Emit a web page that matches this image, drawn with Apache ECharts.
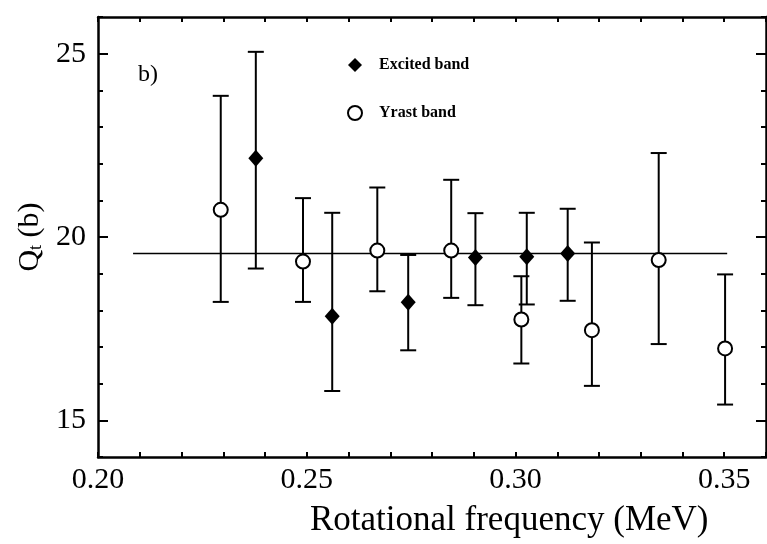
<!DOCTYPE html>
<html>
<head>
<meta charset="utf-8">
<script src="https://cdn.jsdelivr.net/npm/echarts@6/dist/echarts.min.js"></script>
<style>
  html, body { margin: 0; padding: 0; background: #fff; }
  #root { width: 767px; height: 544px; }
</style>
</head>
<body>
<div id="root"></div>
<script>
// excited band (filled diamonds)
const excitedFreq = [0.2378, 0.2561, 0.2743, 0.2904, 0.3027, 0.3125]
const excitedQ = [22.15, 17.84, 18.22, 19.44, 19.46, 19.55]
const excitedLow = [19.14, 15.80, 16.91, 18.14, 18.16, 18.26]
const excitedHigh = [25.05, 20.66, 19.51, 20.65, 20.66, 20.77]

// yrast band (open circles)
const yrastFreq = [0.2294, 0.2491, 0.2669, 0.2846, 0.3014, 0.3183, 0.3343, 0.3502]
const yrastQ = [20.74, 19.33, 19.63, 19.63, 17.75, 17.46, 19.37, 16.96]
const yrastLow = [18.23, 18.23, 18.52, 18.34, 16.55, 15.94, 17.08, 15.43]
const yrastHigh = [23.85, 21.06, 21.35, 21.56, 18.93, 19.85, 22.29, 18.98]

// average Qt line
const fitQ = 19.55
const fitFreq = [0.2084, 0.3507]

const xLabels = [0.20, 0.25, 0.30, 0.35]
const yLabels = [15, 20, 25]

const font = 'Liberation Serif'
const black = '#000'

const zip = (a, b) => a.map((v, i) => [v, b[i]])
const bars = (x, lo, hi) => x.map((v, i) => [v, lo[i], hi[i]])

const errorBars = (params, api) => {
	const top = api.coord([api.value(0), api.value(2)])
	const bot = api.coord([api.value(0), api.value(1)])
	const w = 8
	const style = { stroke: black, lineWidth: 2 }
	return {
		type: 'group',
		children: [
			{ type: 'line', shape: { x1: top[0], y1: top[1], x2: bot[0], y2: bot[1] }, style },
			{ type: 'line', shape: { x1: top[0] - w, y1: top[1], x2: top[0] + w, y2: top[1] }, style },
			{ type: 'line', shape: { x1: bot[0] - w, y1: bot[1], x2: bot[0] + w, y2: bot[1] }, style }
		]
	}
}

const near = (v, list) => list.some(t => Math.abs(v - t) < 1e-6)

const xAxisBase = {
	type: 'value',
	min: 0.2,
	max: 0.36,
	interval: 0.01,
	axisLine: { show: true, lineStyle: { color: black, width: 2.5 } },
	axisTick: { show: true, inside: true, length: 5, lineStyle: { color: black, width: 2 } },
	splitLine: { show: false }
}
const yAxisBase = {
	type: 'value',
	min: 14,
	max: 26,
	interval: 1,
	axisLine: { show: true, lineStyle: { color: black, width: 2.5 } },
	axisTick: { show: true, inside: true, length: 5, lineStyle: { color: black, width: 2 } },
	splitLine: { show: false }
}
// longer ticks at the labelled values
const yMajorTicks = position => Object.assign({}, yAxisBase, {
	position,
	offset: 0,
	axisLine: { show: false },
	axisTick: { show: true, inside: true, length: 10, customValues: yLabels, lineStyle: { color: black, width: 2 } },
	axisLabel: { show: false }
})

const myChart = echarts.init(document.getElementById('root'))
const option = {
	animation: false,
	backgroundColor: '#fff',
	grid: { left: 98, right: 1, top: 17, bottom: 87, containLabel: false, outerBoundsMode: 'none' },
	legend: {
		orient: 'vertical',
		left: 342,
		top: 52,
		itemWidth: 14,
		itemHeight: 14,
		itemGap: 32,
		textStyle: { fontFamily: font, fontSize: 16, fontWeight: 'bold', color: black, padding: [0, 0, 0, 12] },
		data: ['Excited band', 'Yrast band']
	},
	xAxis: [
		Object.assign({}, xAxisBase, {
			position: 'bottom',
			axisLabel: {
				margin: 8,
				fontFamily: font,
				fontSize: 30,
				color: black,
				formatter: v => near(v, xLabels) ? v.toFixed(2) : ''
			}
		}),
		Object.assign({}, xAxisBase, { position: 'top', axisLabel: { show: false } })
	],
	yAxis: [
		Object.assign({}, yAxisBase, {
			position: 'left',
			name: '{q|Q}{s|t}{q| (b)}',
			nameLocation: 'middle',
			nameGap: 50,
			nameTextStyle: {
				rich: {
					q: { fontFamily: font, fontSize: 30, color: black },
					s: { fontFamily: font, fontSize: 18, color: black, verticalAlign: 'bottom', padding: [12, 0, 0, 0] }
				}
			},
			axisLabel: {
				margin: 12,
				fontFamily: font,
				fontSize: 30,
				color: black,
				formatter: v => near(v, yLabels) ? String(v) : ''
			}
		}),
		Object.assign({}, yAxisBase, { position: 'right', offset: 0, axisLabel: { show: false } }),
		yMajorTicks('left'),
		yMajorTicks('right')
	],
	graphic: [
		{ type: 'text', left: 138, top: 63, style: { text: 'b)', font: '24px "Liberation Serif"', fill: black } },
		{ type: 'text', left: 310, top: 503, style: { text: 'Rotational frequency (MeV)', font: '35px "Liberation Serif"', fill: black } }
	],
	series: [
		{
			type: 'line',
			data: zip(fitFreq, [fitQ, fitQ]),
			symbol: 'none',
			lineStyle: { color: black, width: 1.5 },
			z: 1,
			silent: true
		},
		{
			type: 'custom',
			renderItem: errorBars,
			data: bars(excitedFreq, excitedLow, excitedHigh),
			z: 2
		},
		{
			type: 'custom',
			renderItem: errorBars,
			data: bars(yrastFreq, yrastLow, yrastHigh),
			z: 2
		},
		{
			name: 'Excited band',
			type: 'scatter',
			data: zip(excitedFreq, excitedQ),
			symbol: 'diamond',
			symbolSize: [15, 17],
			itemStyle: { color: black, opacity: 1 },
			z: 3
		},
		{
			name: 'Yrast band',
			type: 'scatter',
			data: zip(yrastFreq, yrastQ),
			symbol: 'circle',
			symbolSize: 14,
			itemStyle: { color: '#fff', borderColor: black, borderWidth: 2, opacity: 1 },
			z: 3
		}
	]
}
if (option && typeof option === 'object') {
	myChart.setOption(option, true)
}
</script>
</body>
</html>
